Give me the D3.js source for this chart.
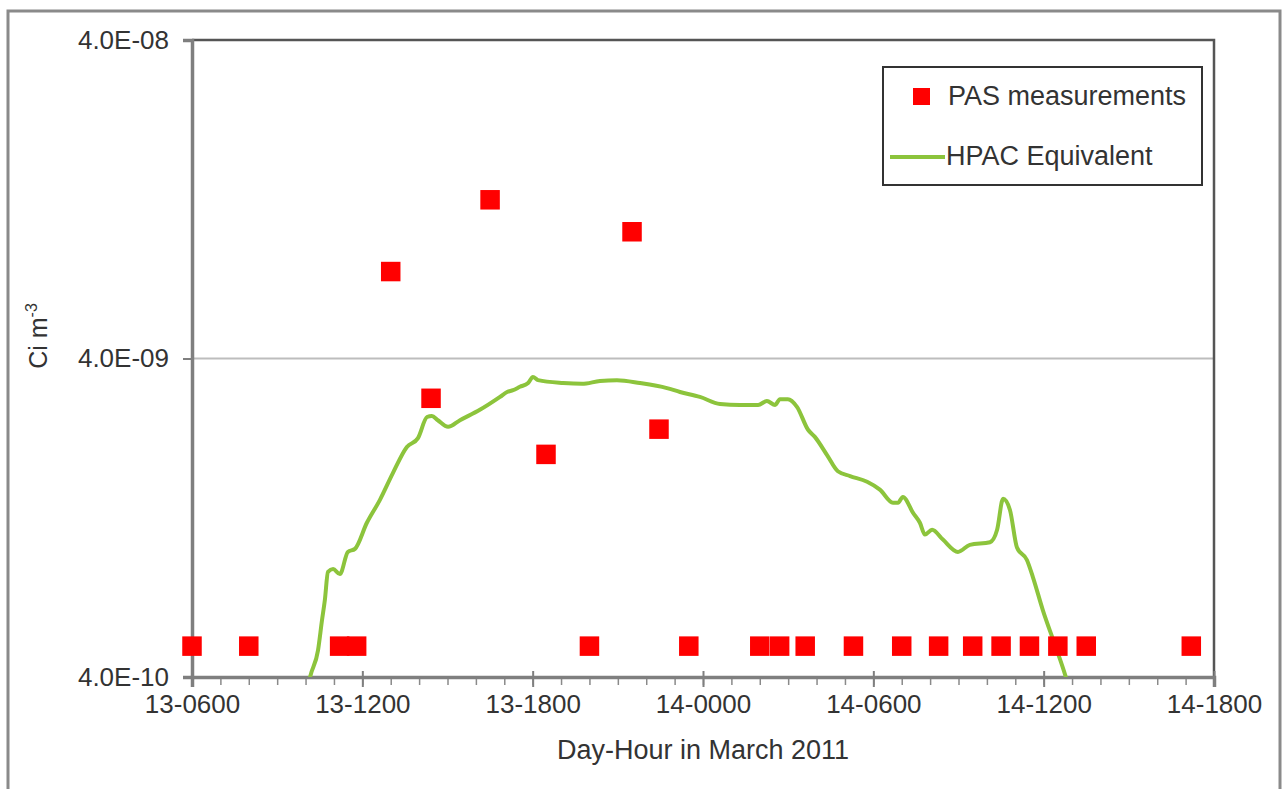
<!DOCTYPE html>
<html>
<head>
<meta charset="utf-8">
<script src="https://cdn.jsdelivr.net/npm/d3@7"></script>
<style>
  html, body { margin: 0; padding: 0; background: #fff; }
  svg { display: block; }
  text { font-family: "Liberation Sans", Arial, sans-serif; fill: #333; }
</style>
</head>
<body>
<svg id="chart" width="1282" height="789"></svg>
<script>
// ---- Data (hours after 13 March 06:00) ----
const xTickHours = [0, 6, 12, 18, 24, 30, 36];
const xTickLabels = ["13-0600", "13-1200", "13-1800", "14-0000", "14-0600", "14-1200", "14-1800"];
const yTickValues = [4e-10, 4e-9, 4e-8];
const yTickLabels = ["4.0E-10", "4.0E-09", "4.0E-08"];

const pasHours  = [0, 2.0, 5.2, 5.8, 7.0, 8.42, 10.5, 12.47, 14.0, 15.5, 16.45, 17.5,
                   20.0, 20.7, 21.6, 23.3, 25.0, 26.3, 27.5, 28.5, 29.5, 30.5, 31.5, 35.2];
const pasValues = [5.0e-10, 5.0e-10, 5.0e-10, 5.0e-10, 7.5e-9, 3.0e-9, 1.26e-8, 2.0e-9, 5.0e-10, 1.0e-8, 2.4e-9, 5.0e-10,
                   5.0e-10, 5.0e-10, 5.0e-10, 5.0e-10, 5.0e-10, 5.0e-10, 5.0e-10, 5.0e-10, 5.0e-10, 5.0e-10, 5.0e-10, 5.0e-10];

const hpacHours = [4.0, 4.16, 4.44, 4.58, 4.68, 4.79, 4.97, 5.21, 5.49, 5.74, 6.16, 6.62, 7.08, 7.57, 7.96,
                   8.28, 8.45, 8.66, 9.02, 9.44, 10.14, 10.85, 11.10, 11.31, 11.55, 11.84, 12.01, 12.19,
                   13.07, 13.74, 14.37, 14.97, 15.78, 16.73, 17.19, 17.89, 18.60, 19.30, 19.94, 20.25,
                   20.54, 20.71, 20.99, 21.31, 21.70, 21.94, 22.37, 22.75, 23.18, 23.78, 24.23, 24.69,
                   24.87, 25.04, 25.40, 25.64, 25.82, 26.07, 26.45, 26.98, 27.40, 28.11, 28.36, 28.57,
                   28.81, 29.06, 29.41, 29.62, 29.97, 30.40, 30.78, 31.0];
const hpacValues = [3.4e-10, 4.0e-10, 4.86e-10, 6.04e-10, 6.98e-10, 8.55e-10, 8.73e-10, 8.42e-10, 9.88e-10, 1.01e-9,
                    1.22e-9, 1.44e-9, 1.75e-9, 2.11e-9, 2.25e-9, 2.62e-9, 2.64e-9, 2.56e-9, 2.44e-9, 2.56e-9,
                    2.76e-9, 3.03e-9, 3.14e-9, 3.18e-9, 3.26e-9, 3.35e-9, 3.50e-9, 3.42e-9, 3.35e-9, 3.33e-9,
                    3.40e-9, 3.42e-9, 3.35e-9, 3.23e-9, 3.14e-9, 3.03e-9, 2.88e-9, 2.86e-9, 2.86e-9, 2.94e-9,
                    2.86e-9, 2.98e-9, 2.98e-9, 2.82e-9, 2.39e-9, 2.27e-9, 1.99e-9, 1.77e-9, 1.71e-9, 1.64e-9,
                    1.55e-9, 1.41e-9, 1.41e-9, 1.47e-9, 1.31e-9, 1.22e-9, 1.12e-9, 1.16e-9, 1.08e-9, 9.88e-10,
                    1.04e-9, 1.06e-9, 1.16e-9, 1.45e-9, 1.34e-9, 1.02e-9, 9.32e-10, 8.24e-10, 6.49e-10, 5.04e-10,
                    4.0e-10, 3.39e-10];

const seriesNames = ["PAS measurements", "HPAC Equivalent"];
const xTitle = "Day-Hour in March 2011";

// ---- Layout ----
const svg = d3.select("#chart");
const L = 192, R = 1214, T = 40, B = 677;
const x = d3.scaleLinear().domain([0, 36]).range([L, R]);
const y = d3.scaleLog().domain([4e-10, 4e-8]).range([B, T]);

const red = "#ff0000", green = "#8cc43c";

// outer frame
svg.append("rect").attr("x", 8).attr("y", 11).attr("width", 1272).attr("height", 800)
  .attr("fill", "none").attr("stroke", "#8a8a8a").attr("stroke-width", 3);

// gridline
svg.append("line").attr("x1", L).attr("x2", R).attr("y1", y(4e-9)).attr("y2", y(4e-9))
  .attr("stroke", "#bdbdbd").attr("stroke-width", 2);

// plot frame top & right
svg.append("path").attr("d", `M${L},${T}H${R}V${B}`).attr("fill", "none")
  .attr("stroke", "#555").attr("stroke-width", 2.5);

// x axis minor ticks
const xMinor = svg.append("g").attr("transform", `translate(0,${B})`)
  .call(d3.axisBottom(x).tickValues(d3.range(0, 37, 1)).tickSize(8).tickFormat(""));
xMinor.select(".domain").remove();
xMinor.selectAll("line").attr("stroke", "#8a8a8a").attr("stroke-width", 1.5);

// x axis major ticks + labels
const xMajor = svg.append("g").attr("transform", `translate(0,${B})`)
  .call(d3.axisBottom(x).tickValues(xTickHours).tickSize(10).tickPadding(8)
    .tickFormat((d, i) => xTickLabels[i]));
xMajor.select(".domain").attr("stroke", "#7f7f7f").attr("stroke-width", 3.5);
xMajor.selectAll("line").attr("stroke", "#7f7f7f").attr("stroke-width", 2).attr("y1", -6).attr("y2", 10);
xMajor.selectAll("text").attr("font-size", 26).style("fill", "#333")
  .attr("font-family", "Liberation Sans, Arial, sans-serif");

// y axis
const yAx = svg.append("g").attr("transform", `translate(${L},0)`)
  .call(d3.axisLeft(y).tickValues(yTickValues).tickSize(9).tickPadding(14)
    .tickFormat((d, i) => yTickLabels[i]));
yAx.select(".domain").attr("stroke", "#7f7f7f").attr("stroke-width", 3.5);
yAx.selectAll("line").attr("stroke", "#7f7f7f").attr("stroke-width", 2);
yAx.selectAll("text").attr("font-size", 26).style("fill", "#333")
  .attr("font-family", "Liberation Sans, Arial, sans-serif");

// clip
svg.append("clipPath").attr("id", "clip").append("rect")
  .attr("x", L).attr("y", T).attr("width", R - L).attr("height", B - T);

// HPAC line
const hpac = hpacHours.map((h, i) => [h, hpacValues[i]]);
svg.append("path").datum(hpac).attr("clip-path", "url(#clip)")
  .attr("d", d3.line().curve(d3.curveMonotoneX).x(d => x(d[0])).y(d => y(d[1])))
  .attr("fill", "none").attr("stroke", green).attr("stroke-width", 4)
  .attr("stroke-linejoin", "round");

// PAS squares
const sq = 19.5;
svg.append("g").selectAll("rect").data(pasHours.map((h, i) => [h, pasValues[i]])).join("rect")
  .attr("x", d => x(d[0]) - sq / 2).attr("y", d => y(d[1]) - sq / 2)
  .attr("width", sq).attr("height", sq).attr("fill", red);

// axis titles
svg.append("text").attr("x", 703).attr("y", 752).attr("text-anchor", "middle")
  .attr("dominant-baseline", "middle").attr("font-size", 27).text(xTitle);

const yt = svg.append("text").attr("transform", "translate(47,336) rotate(-90)")
  .attr("text-anchor", "middle").attr("font-size", 25);
yt.append("tspan").text("Ci m");
yt.append("tspan").attr("dy", -10).attr("font-size", 16).text("-3");

// legend
const lg = svg.append("g");
lg.append("rect").attr("x", 883).attr("y", 67).attr("width", 319).attr("height", 118)
  .attr("fill", "#fff").attr("stroke", "#333").attr("stroke-width", 2);
lg.append("rect").attr("x", 913).attr("y", 88).attr("width", 17).attr("height", 17).attr("fill", red);
lg.append("text").attr("x", 948).attr("y", 98).attr("dominant-baseline", "middle")
  .attr("font-size", 27).text(seriesNames[0]);
lg.append("line").attr("x1", 890).attr("x2", 945).attr("y1", 157).attr("y2", 157)
  .attr("stroke", green).attr("stroke-width", 4);
lg.append("text").attr("x", 946).attr("y", 158).attr("dominant-baseline", "middle")
  .attr("font-size", 27).text(seriesNames[1]);
</script>
</body>
</html>
